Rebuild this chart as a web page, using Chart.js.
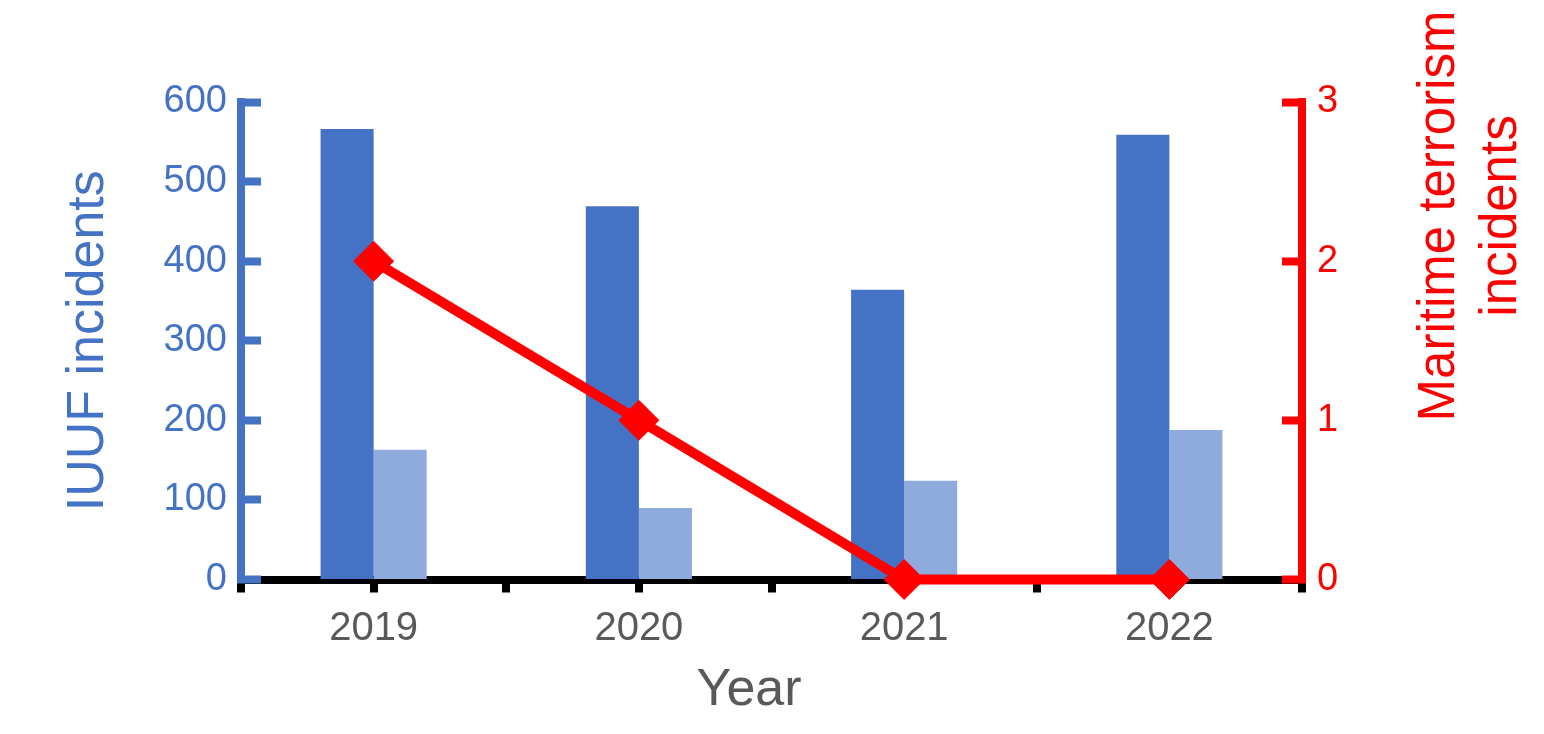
<!DOCTYPE html>
<html>
<head>
<meta charset="utf-8">
<script src="https://cdn.jsdelivr.net/npm/chart.js@4"></script>
<style>
  html, body { margin: 0; padding: 0; background: #fff; }
  #wrap { width: 1544px; height: 734px; }
</style>
</head>
<body>
<div id="wrap"><canvas id="chart"></canvas></div>
<script>
const years = ["2019", "2020", "2021", "2022"];
const iuufDark = [566, 469, 364, 559];
const iuufLight = [163, 90, 124, 188];
const terrorism = [2, 1, 0, 0];
const leftTicks = [0, 100, 200, 300, 400, 500, 600];
const rightTicks = [0, 1, 2, 3];

const blue = "#4472C4";
const lightBlue = "#8FAADC";
const red = "#FF0000";
const grey = "#595959";
const family = "'Liberation Sans', Arial, sans-serif";

// tick marks under each year (the axis itself puts them on the boundaries)
const centerTicks = {
  id: "centerTicks",
  beforeDatasetsDraw(chart) {
    const xs = chart.scales.x;
    const ctx = chart.ctx;
    ctx.save();
    ctx.strokeStyle = "#000";
    ctx.lineWidth = 8;
    years.forEach((y, i) => {
      const px = Math.round(xs.getPixelForValue(i));
      ctx.beginPath();
      ctx.moveTo(px, xs.top);
      ctx.lineTo(px, xs.top + 13);
      ctx.stroke();
    });
    ctx.restore();
  },
  afterDraw(chart) {
    const ctx = chart.ctx;
    ctx.save();
    ctx.textAlign = "center";
    ctx.textBaseline = "middle";
    // x title
    ctx.fillStyle = grey;
    ctx.font = "52px " + family;
    ctx.fillText("Year", 749, 691);
    // right title, reads bottom to top
    ctx.fillStyle = red;
    ctx.font = "51px " + family;
    ctx.translate(1471, 216);
    ctx.rotate(-Math.PI / 2);
    ctx.fillText("Maritime terrorism", 0, -31);
    ctx.fillText("incidents", 0, 31);
    ctx.restore();
  }
};

new Chart(document.getElementById("chart"), {
  type: "bar",
  data: {
    labels: years,
    datasets: [
      {
        type: "line",
        label: "Maritime terrorism incidents",
        data: terrorism,
        yAxisID: "y1",
        borderColor: red,
        backgroundColor: red,
        borderWidth: 10,
        pointStyle: "rectRot",
        pointRadius: 20,
        pointBorderWidth: 1,
        pointBackgroundColor: red,
        pointBorderColor: red,
        tension: 0,
        clip: false,
        order: 0,
      },
      {
        label: "IUUF incidents",
        data: iuufDark,
        yAxisID: "y",
        backgroundColor: blue,
        categoryPercentage: 0.4,
        barPercentage: 1,
        order: 1,
      },
      {
        label: "IUUF incidents (2)",
        data: iuufLight,
        yAxisID: "y",
        backgroundColor: lightBlue,
        categoryPercentage: 0.4,
        barPercentage: 1,
        order: 2,
      },
    ],
  },
  options: {
    responsive: true,
    maintainAspectRatio: false,
    animation: false,
    layout: { padding: { top: 102, left: 0, right: 0, bottom: 0 } },
    plugins: {
      legend: { display: false },
      tooltip: { enabled: false },
    },
    scales: {
      x: {
        offset: true,
        grid: {
          offset: true,
          drawOnChartArea: false,
          color: "#000",
          tickColor: "#000",
          tickLength: 13,
          lineWidth: 8,
          tickWidth: 8,
        },
        border: { display: true, color: "#000", width: 8 },
        ticks: { color: grey, font: { family: family, size: 40 }, padding: 12, maxRotation: 0 },
        afterFit: (s) => { s.height = 154.5; },
      },
      y: {
        position: "left",
        min: 0,
        max: 600,
        afterBuildTicks: (s) => { s.ticks = leftTicks.map((v) => ({ value: v })); },
        ticks: { color: blue, font: { family: family, size: 38 }, padding: 34 },
        grid: { drawOnChartArea: false, tickLength: -20, tickWidth: 8, tickColor: blue, z: 1 },
        border: { color: blue, width: 8, z: 1 },
        title: {
          display: true,
          text: "IUUF incidents",
          color: blue,
          font: { family: family, size: 52 },
          padding: { top: 57, bottom: 0 },
        },
        afterFit: (s) => { s.width = 241; },
      },
      y1: {
        position: "right",
        min: 0,
        max: 3,
        afterBuildTicks: (s) => { s.ticks = rightTicks.map((v) => ({ value: v })); },
        ticks: { color: red, font: { family: family, size: 38 }, padding: 35 },
        grid: { drawOnChartArea: false, tickLength: -20, tickWidth: 8, tickColor: red, z: 1 },
        border: { color: red, width: 8, z: 1 },
        afterFit: (s) => { s.width = 242; },
      },
    },
  },
  plugins: [centerTicks],
});
</script>
</body>
</html>
